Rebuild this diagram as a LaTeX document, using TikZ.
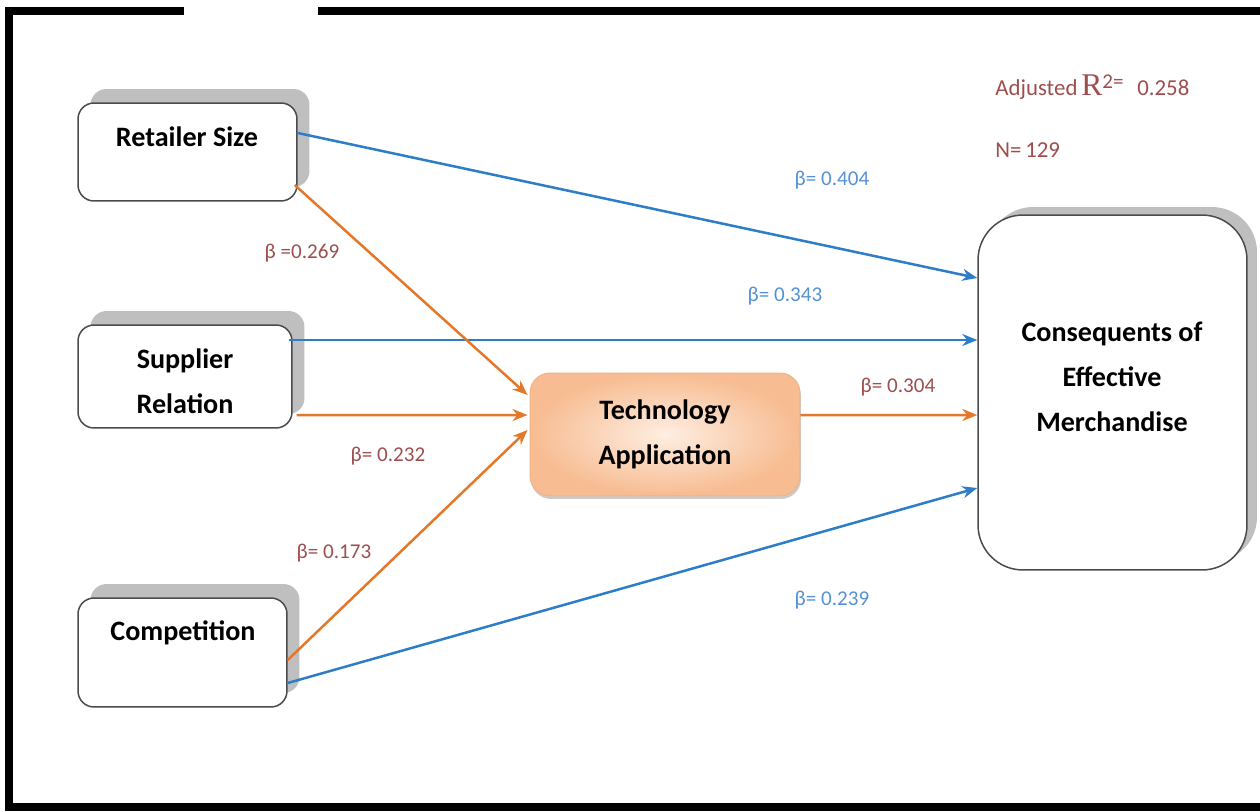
\documentclass[tikz,border=0pt]{standalone}
\usepackage{fontspec}
\setmainfont{Carlito}
\newfontfamily\serifR{Liberation Serif}
\usetikzlibrary{arrows.meta,shadows,calc}
\definecolor{lnblue}{RGB}{45,125,200}
\definecolor{lnorange}{RGB}{228,120,40}
\definecolor{lbred}{RGB}{158,78,78}
\definecolor{lbblue}{RGB}{85,145,212}
\definecolor{bordergray}{RGB}{75,75,75}
\definecolor{taout}{RGB}{247,188,145}
\definecolor{tain}{RGB}{254,238,226}
\definecolor{taborder}{RGB}{238,180,135}
\tikzset{
  varbox/.style={draw=bordergray, line width=0.03cm, fill=white, rounded corners=0.32cm,
    general shadow={fill=black!25, shadow xshift=0.25cm, shadow yshift=0.28cm}},
  bigbox/.style={draw=bordergray, line width=0.03cm, fill=white, rounded corners=0.9cm,
    general shadow={fill=black!25, shadow xshift=0.2cm, shadow yshift=0.16cm}},
  techbox/.style={draw=taborder, line width=0.02cm, inner color=tain, outer color=taout, rounded corners=0.4cm,
    general shadow={fill=black!20, shadow xshift=0.02cm, shadow yshift=-0.06cm}},
  boxtext/.style={font=\bfseries\fontsize{16}{25.5}\selectfont, align=center, inner sep=0pt},
  redlabel/.style={text=lbred, font=\fontsize{12}{14}\selectfont, inner sep=0pt},
  bluelabel/.style={text=lbblue, font=\fontsize{12}{14}\selectfont, inner sep=0pt},
  bluearrow/.style={draw=lnblue, line width=0.05cm, -{Stealth[length=0.3cm, width=0.24cm]}},
  orangearrow/.style={draw=lnorange, line width=0.05cm, -{Stealth[length=0.3cm, width=0.24cm]}},
  frameline/.style={line width=0.16cm, line cap=rect}
}
\begin{document}
\begin{tikzpicture}[x=0.02cm, y=-0.02cm]
\useasboundingbox (0,0) rectangle (1260,811);
% frame
\draw[frameline] (180,11) -- (9,11) -- (9,807) -- (1262,807);
\draw[frameline] (322,11) -- (1262,11);
% boxes
\node[varbox, minimum width=4.38cm, minimum height=1.96cm] (rs) at (187.5,152) {};
\node[varbox, minimum width=4.28cm, minimum height=2.06cm] (sr) at (185,376.5) {};
\node[varbox, minimum width=4.18cm, minimum height=2.18cm] (cp) at (182.5,652.5) {};
\node[techbox, minimum width=5.4cm, minimum height=2.46cm] (ta) at (665,434.5) {};
\node[bigbox, minimum width=5.38cm, minimum height=7.1cm] (ce) at (1112.5,392.5) {};
% box texts
\node[boxtext] (rst) at (187,137) {Retailer Size};
\node[boxtext] (srt) at (185,381) {Supplier\\Relation};
\node[boxtext] (cpt) at (183,633) {Competition};
\node[boxtext] (tat) at (665,434) {Technology\\Application};
\node[boxtext] (cet) at (1112,377) {Consequents of\\Effective\\Merchandise};
% arrows
\draw[bluearrow] ($(rs.east)+(0,-19)$) -- ($(ce.west)+(0,-114.5)$);
\draw[bluearrow] ($(sr.east)+(-4,-36.5)$) -- ($(ce.west)+(0,-52.5)$);
\draw[bluearrow] ($(cp.east)+(0,30.5)$) -- ($(ce.west)+(0,95.5)$);
\draw[orangearrow] ($(rs.east)+(-3,33)$) -- ($(ta.west)+(-2,-39.5)$);
\draw[orangearrow] ($(sr.east)+(4,38.5)$) -- ($(ta.west)+(-2,-19.5)$);
\draw[orangearrow] ($(cp.east)+(0,7.5)$) -- ($(ta.west)+(-2,-4.5)$);
\draw[orangearrow] ($(ta.east)+(0,-19.5)$) -- ($(ce.west)+(0,22.5)$);
% labels
\node[redlabel, anchor=west, font=\fontsize{13}{15}\selectfont] (adj) at (995,87) {Adjusted\,{\serifR\fontsize{18}{19}\selectfont R}\raisebox{0.7ex}{\fontsize{12}{13}\selectfont 2=}\hspace{0.6em}0.258};
\node[redlabel, anchor=west, font=\fontsize{13}{15}\selectfont] (nn) at (995,150) {N=\,129};
\node[bluelabel] (b1) at (832,180) {β= 0.404};
\node[redlabel] (b2) at (302,253) {β =0.269};
\node[bluelabel] (b3) at (785,296) {β= 0.343};
\node[redlabel] (b4) at (898,387) {β= 0.304};
\node[redlabel] (b5) at (388,456) {β= 0.232};
\node[redlabel] (b6) at (334,553) {β= 0.173};
\node[bluelabel] (b7) at (832,600) {β= 0.239};
\end{tikzpicture}
\end{document}
